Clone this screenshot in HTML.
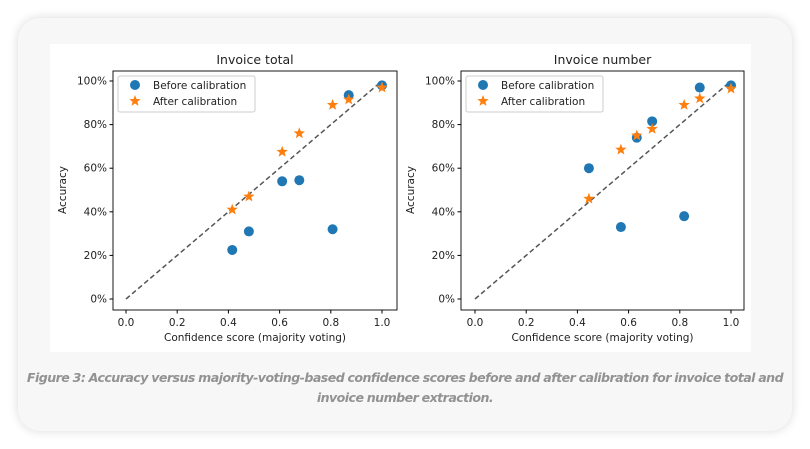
<!DOCTYPE html>
<html><head><meta charset="utf-8"><style>
body{margin:0;width:810px;height:449px;background:#fff;overflow:hidden;font-family:"DejaVu Sans",sans-serif}
.card{position:absolute;left:18px;top:18px;width:774px;height:413px;background:#f7f7f7;border-radius:22px;box-shadow:0 0 10px rgba(0,0,0,0.15)}
.img{position:absolute;left:50px;top:44px;width:701px;height:308px;background:#fff}
.cap{position:absolute;left:15px;top:368px;width:780px;text-align:center;font-family:"DejaVu Sans",sans-serif;font-style:italic;font-weight:bold;color:#929292;font-size:12.6px;line-height:20px;letter-spacing:-0.55px;word-spacing:-0.5px}
svg{position:absolute;left:0;top:0}
</style></head><body>
<div class="card"></div>
<div class="img"></div>
<svg id="s" width="810" height="449" font-family="DejaVu Sans, sans-serif" font-size="10.5" fill="#222"></svg>
<div class="cap">Figure 3: Accuracy versus majority-voting-based confidence scores before and after calibration for invoice total and<br>invoice number extraction.</div>
<script>
const s=document.getElementById('s');let h='';
function chart(bx0,bx1,x0,title,before,after){
 const X=v=>x0+v*256, Y=p=>299-p*2.18;
 h+=`<text x="${(bx0+bx1)/2}" y="64" text-anchor="middle" font-size="12.5">${title}</text>`;
 h+=`<line x1="${X(0)}" y1="${Y(0)}" x2="${X(1)}" y2="${Y(100)}" stroke="#555" stroke-width="1.5" stroke-dasharray="5,3"/>`;
 for(let i=0;i<=5;i++){const x=X(i*0.2);h+=`<line x1="${x}" y1="310" x2="${x}" y2="313.5" stroke="#000"/><text x="${x}" y="326" text-anchor="middle">${(i*0.2).toFixed(1)}</text>`;
  const y=Y(i*20);h+=`<line x1="${bx0}" y1="${y}" x2="${bx0-3.5}" y2="${y}" stroke="#000"/><text x="${bx0-6}" y="${y+3.5}" text-anchor="end">${i*20}%</text>`;}
 h+=`<text x="${(bx0+bx1)/2}" y="341" text-anchor="middle">Confidence score (majority voting)</text>`;
 h+=`<text transform="translate(${bx0-47},190) rotate(-90)" text-anchor="middle">Accuracy</text>`;
 before.forEach(([a,b])=>h+=`<circle cx="${X(a)}" cy="${Y(b)}" r="5" fill="#1f77b4"/>`);
 after.forEach(([a,b])=>h+=star(X(a),Y(b),6));
 h+=`<rect x="${bx0}" y="71" width="${bx1-bx0}" height="239" fill="none" stroke="#000" stroke-width="0.9"/>`;
 h+=`<rect x="${bx0+5}" y="76" width="137" height="36" rx="2" fill="#fff" fill-opacity="0.8" stroke="#ccc"/>`;
 h+=`<circle cx="${bx0+22}" cy="85" r="5" fill="#1f77b4"/><text x="${bx0+40}" y="89">Before calibration</text>`;
 h+=star(bx0+22,101,6)+`<text x="${bx0+40}" y="105">After calibration</text>`;
}
function star(cx,cy,r){let p=[];for(let i=0;i<10;i++){const a=-Math.PI/2+i*Math.PI/5,rr=i%2?r*0.42:r;p.push((cx+rr*Math.cos(a)).toFixed(1)+','+(cy+rr*Math.sin(a)).toFixed(1));}return `<polygon points="${p.join(' ')}" fill="#ff7f0e"/>`;}
chart(113,397,126,'Invoice total',
 [[0.415,22.5],[0.48,31],[0.61,54],[0.677,54.5],[0.807,32],[0.87,93.5],[1.0,98]],
 [[0.415,41],[0.48,47],[0.61,67.5],[0.677,76],[0.807,89],[0.87,91.5],[1.0,97]]);
chart(461,744,475,'Invoice number',
 [[0.445,60],[0.57,33],[0.632,74],[0.692,81.5],[0.817,38],[0.878,97],[1.0,98]],
 [[0.445,46],[0.57,68.5],[0.632,75],[0.692,78],[0.817,89],[0.878,92],[1.0,96.5]]);
s.innerHTML=h;
</script>
</body></html>
